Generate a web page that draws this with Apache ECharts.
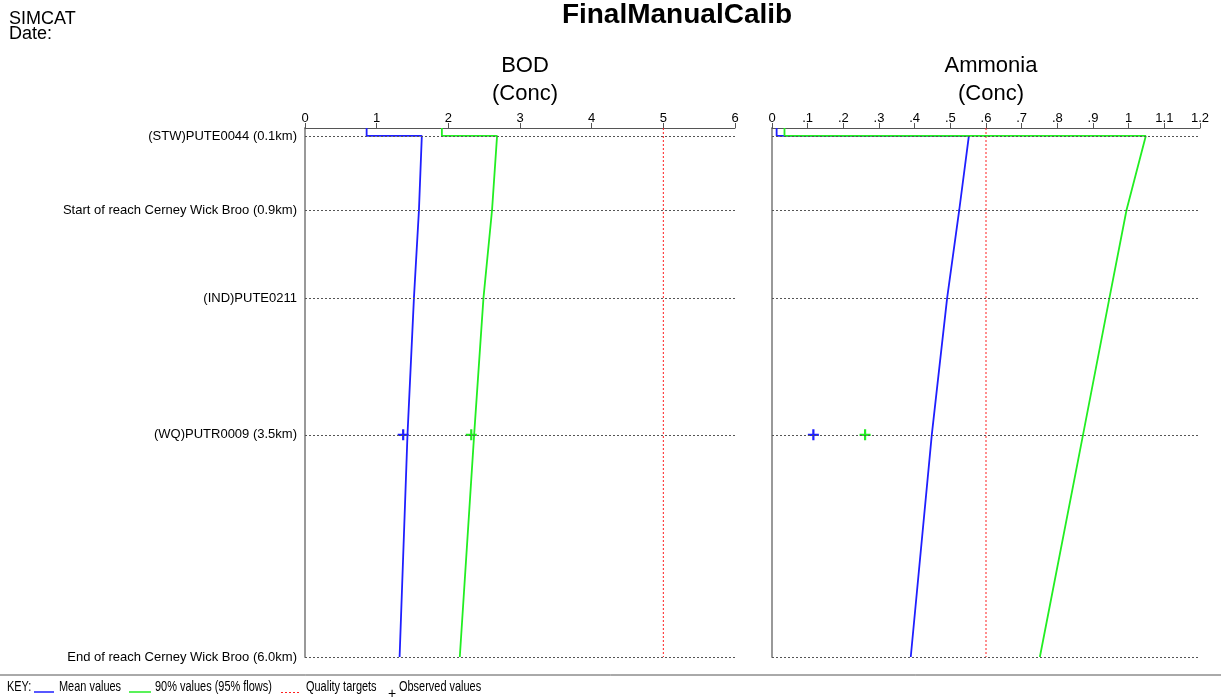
<!DOCTYPE html>
<html>
<head>
<meta charset="utf-8">
<script src="https://cdn.jsdelivr.net/npm/echarts@6/dist/echarts.min.js"></script>
<style>
  html, body { margin: 0; padding: 0; background: #fff; }
  #chart { width: 1221px; height: 699px; }
</style>
</head>
<body>
<div id="chart"></div>
<script>
// reach nodes (distance down the river, km) and their names
const nodeKm = [0.09, 0.93, 1.93, 3.48, 6.0];
const nodeNames = ['(STW)PUTE0044 (0.1km)', 'Start of reach Cerney Wick Broo (0.9km)',
  '(IND)PUTE0211', '(WQ)PUTR0009 (3.5km)', 'End of reach Cerney Wick Broo (6.0km)'];

// profile points: the jump at the first node is the STW discharge
const profileKm = [0, 0.09, 0.09, 0.93, 1.93, 3.48, 6.0];
const bodMean = [0.86, 0.86, 1.63, 1.59, 1.52, 1.43, 1.32];
const bod90 = [1.91, 1.91, 2.68, 2.61, 2.49, 2.36, 2.16];
const nh3Mean = [0.013, 0.013, 0.552, 0.525, 0.491, 0.448, 0.389];
const nh390 = [0.035, 0.035, 1.048, 0.994, 0.946, 0.872, 0.751];

// observed values at the WQ point
const obsKm = [3.48];
const bodObsMean = [1.37];
const bodObs90 = [2.32];
const nh3ObsMean = [0.116];
const nh3Obs90 = [0.261];

// quality targets
const bodTarget = 5;
const nh3Target = 0.6;
const targetKm = [0, 6];

const blue = '#1f1fff';
const green = '#22ee22';
const red = '#ff2020';
const FONT = '"Liberation Sans", Arial, sans-serif';
const plus = 'path://M4,0h2v4h4v2h-4v4h-2v-4h-4v-2h4z';

const pts = (xs, ys) => xs.map((x, i) => [x, ys[i]]);

function fmtNh3(v) {
  let s = (Math.round(v * 10) / 10).toFixed(1);
  if (s === '0.0') return '0';
  if (s === '1.0') return '1';
  if (s.startsWith('0.')) return s.slice(1);
  return s;
}

// dotted lines at each reach node, names on the left panel only
function nodeLines(gridIdx, withLabels) {
  return {
    type: 'line', xAxisIndex: gridIdx, yAxisIndex: gridIdx, data: [], z: 1,
    markLine: {
      silent: true, symbol: 'none', animation: false,
      lineStyle: { color: '#555', type: [2, 2], width: 1 },
      label: { show: withLabels, position: 'start', distance: 8, color: '#000', fontSize: 13, fontFamily: FONT },
      data: nodeKm.map((km, i) => ({ yAxis: km, label: { formatter: nodeNames[i] } }))
    }
  };
}

function targetLine(gridIdx, target) {
  return {
    type: 'line', xAxisIndex: gridIdx, yAxisIndex: gridIdx, z: 2,
    data: targetKm.map(km => [target, km]), showSymbol: false, silent: true,
    lineStyle: { color: red, type: [2, 2], width: 1 }, animation: false
  };
}

function lineSeries(gridIdx, xs, color) {
  return {
    type: 'line', xAxisIndex: gridIdx, yAxisIndex: gridIdx,
    data: pts(xs, profileKm), showSymbol: false, z: 3,
    lineStyle: { color: color, width: 1.8 }, animation: false
  };
}

function obsSeries(gridIdx, xs, color) {
  return {
    type: 'scatter', xAxisIndex: gridIdx, yAxisIndex: gridIdx,
    data: pts(xs, obsKm), symbol: plus, symbolSize: 11, z: 4,
    itemStyle: { color: color, opacity: 1 }, animation: false
  };
}

function xAx(gridIdx, max, interval, fmt) {
  return {
    type: 'value', gridIndex: gridIdx, position: 'top', min: 0, max: max, interval: interval,
    axisLine: { show: true, lineStyle: { color: '#555', width: 1 } },
    axisTick: { show: true, length: 5, lineStyle: { color: '#555' } },
    axisLabel: { color: '#000', fontSize: 13, fontFamily: FONT, margin: 3, formatter: fmt },
    splitLine: { show: false }
  };
}

function yAx(gridIdx) {
  return {
    type: 'value', gridIndex: gridIdx, inverse: true, min: 0, max: 6,
    axisLine: { show: true, onZero: false, lineStyle: { color: '#999', width: 2 } },
    axisTick: { show: false }, axisLabel: { show: false }, splitLine: { show: false }
  };
}

// key texts are narrow in the original, so squeeze them a bit
function keyText(x, text) {
  return {
    type: 'text', x: x, y: 687, scaleX: 0.73,
    style: { text: text, x: 0, y: 0, fontSize: 15, fontFamily: FONT, fill: '#000', verticalAlign: 'middle' }
  };
}

const chart = echarts.init(document.getElementById('chart'));
chart.setOption({
  backgroundColor: '#fff',
  animation: false,
  title: [
    { text: 'SIMCAT\nDate:', left: 4, top: 7,
      textStyle: { fontSize: 18, fontWeight: 'normal', color: '#000', fontFamily: FONT, lineHeight: 15 } },
    { text: 'FinalManualCalib', left: 672, top: -4, textAlign: 'center',
      textStyle: { fontSize: 28, fontWeight: 'bold', color: '#000', fontFamily: FONT } },
    { text: 'BOD\n(Conc)', left: 520, top: 47, textAlign: 'center',
      textStyle: { fontSize: 22, fontWeight: 'normal', color: '#000', fontFamily: FONT, lineHeight: 28 } },
    { text: 'Ammonia\n(Conc)', left: 986, top: 47, textAlign: 'center',
      textStyle: { fontSize: 22, fontWeight: 'normal', color: '#000', fontFamily: FONT, lineHeight: 28 } }
  ],
  grid: [
    { left: 305, right: 486, top: 128, bottom: 42 },
    { left: 772, right: 21, top: 128, bottom: 42 }
  ],
  xAxis: [
    xAx(0, 6, 1, v => String(v)),
    xAx(1, 1.2, 0.1, fmtNh3)
  ],
  yAxis: [yAx(0), yAx(1)],
  series: [
    nodeLines(0, true),
    nodeLines(1, false),
    targetLine(0, bodTarget),
    targetLine(1, nh3Target),
    lineSeries(0, bodMean, blue),
    lineSeries(0, bod90, green),
    lineSeries(1, nh3Mean, blue),
    lineSeries(1, nh390, green),
    obsSeries(0, bodObsMean, blue),
    obsSeries(0, bodObs90, green),
    obsSeries(1, nh3ObsMean, blue),
    obsSeries(1, nh3Obs90, green)
  ],
  graphic: [
    { type: 'line', shape: { x1: 0, y1: 675, x2: 1221, y2: 675 }, style: { stroke: '#555', lineWidth: 1 } },
    keyText(7, 'KEY:'),
    { type: 'line', shape: { x1: 34, y1: 692, x2: 54, y2: 692 }, style: { stroke: blue, lineWidth: 1.5 } },
    keyText(59, 'Mean values'),
    { type: 'line', shape: { x1: 129, y1: 692, x2: 151, y2: 692 }, style: { stroke: green, lineWidth: 1.5 } },
    keyText(155, '90% values (95% flows)'),
    { type: 'line', shape: { x1: 281, y1: 692.5, x2: 301, y2: 692.5 }, style: { stroke: red, lineWidth: 1, lineDash: [2, 2] } },
    keyText(306, 'Quality targets'),
    { type: 'text', x: 388, y: 694, style: { text: '+', x: 0, y: 0, fontSize: 14, fontFamily: FONT, fill: '#000', verticalAlign: 'middle' } },
    keyText(399, 'Observed values')
  ]
});
</script>
</body>
</html>
